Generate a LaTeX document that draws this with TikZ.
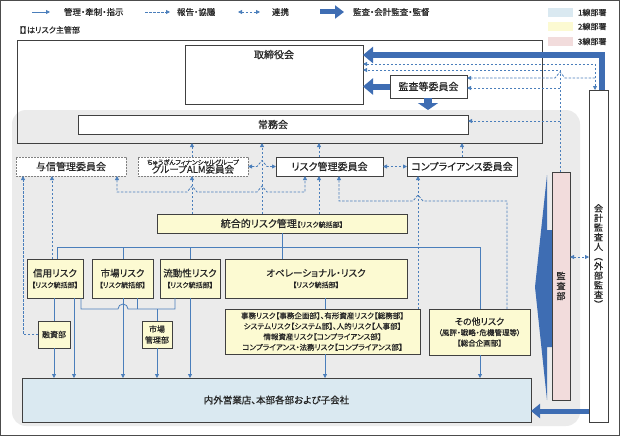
\documentclass[tikz,border=0pt]{standalone}
\usepackage{fontspec}
\setmainfont{Noto Sans CJK JP}[RawFeature={+palt}, FakeBold=0.6]
\usetikzlibrary{arrows.meta}
\definecolor{lblue}{HTML}{4A7EBB}
\definecolor{kblue}{HTML}{3E6DB3}
\definecolor{yfill}{HTML}{FCFAD2}
\definecolor{bfill}{HTML}{DAE9F1}
\definecolor{pfill}{HTML}{F2DCDC}
\definecolor{gbg}{HTML}{EBEBEB}
\definecolor{bord}{HTML}{404040}
\definecolor{txt}{HTML}{262626}
\newcommand\bx[7]{\node[#6, minimum width={(#4-#2)*1pt}, minimum height={(#5-#3)*1pt}] (#1) at ({(#2+#4)/2},{(#3+#5)/2}) {#7};}
\newcommand\fa[1]{\fontsize{#1}{#1}\selectfont}
\begin{document}
\begin{tikzpicture}[x=1pt,y=-1pt,
  every node/.style={text=txt, inner sep=1pt, outer sep=0pt},
  box/.style={draw=bord, line width=0.8pt, fill=white},
  dbox/.style={draw=gray, line width=0.7pt, dash pattern=on 2pt off 1pt, fill=white},
  ybox/.style={draw=bord, line width=0.8pt, fill=yfill, align=center},
  f10/.style={font=\fontsize{10}{12}\selectfont},
  tip/.tip={Triangle[length=4pt,width=4pt]},
  sl/.style={lblue, line width=0.8pt},
  sla/.style={sl, -tip},
  da/.style={lblue, line width=0.8pt, dash pattern=on 2.5pt off 1.5pt, -tip},
  dd/.style={lblue, line width=0.8pt, dash pattern=on 2.5pt off 1.5pt, tip-tip},
  tk/.style={kblue, line width=6pt, line join=miter, -{Triangle[length=10pt,width=16pt]}},
]
\useasboundingbox (0,0) rectangle (620,436);
\draw[gray!60!black, line width=1pt] (0.5,0.5) rectangle (619.5,435.5);

% legend
\coordinate (l1a) at (32,12); \coordinate (l1b) at (50,12);
\draw[sla] (l1a) -- (l1b);
\node[anchor=west, font=\fa{8.5}] (t1) at (63,12) {管理・牽制・指示};
\coordinate (l2a) at (145,12); \coordinate (l2b) at (170,12);
\draw[da] (l2a) -- (l2b);
\node[anchor=west, font=\fa{8.5}] (t2) at (176,12) {報告・協議};
\coordinate (l3a) at (238,12); \coordinate (l3b) at (260,12);
\draw[dd] (l3a) -- (l3b);
\node[anchor=west, font=\fa{8.5}] (t3) at (271,12) {連携};
\coordinate (l4a) at (320,12); \coordinate (l4b) at (344,12);
\draw[kblue, line width=5pt, -{Triangle[length=9pt,width=13pt]}] (l4a) -- (l4b);
\node[anchor=west, font=\fa{8.5}] (t4) at (352,12) {監査・会計監査・監督};
\bx{lg1}{548}{8}{573}{17}{fill=bfill}{}
\bx{lg2}{548}{22}{573}{31}{fill=yfill}{}
\bx{lg3}{548}{37}{573}{46}{fill=pfill}{}
\node[anchor=west, font=\fa{8}] (lt1) at (577,12.5) {1線部署};
\node[anchor=west, font=\fa{8}] (lt2) at (577,26.5) {2線部署};
\node[anchor=west, font=\fa{8}] (lt3) at (577,41.5) {3線部署};
\node[anchor=west, font=\fa{8}] (note) at (18,30) {【】はリスク主管部};

% gray region and board frame
\fill[gbg, rounded corners=14pt] (12,110) rectangle (580,426);
\bx{bd}{17}{40}{542}{143}{draw=bord, line width=0.8pt}{}

% top nodes
\bx{tori}{185}{45}{363}{104}{box, label={[anchor=north, font=\fa{10}, inner sep=5pt]north:取締役会}}{}
\bx{jomu}{78}{115}{468}{134}{box,f10}{常務会}
\bx{kansa}{390}{75}{467}{98}{box,f10}{監査等委員会}

% committees
\bx{yoshin}{16}{157}{126}{176}{dbox,f10}{与信管理委員会}
\bx{alm}{138}{157}{248}{176}{dbox,align=center,font=\fa{8}}{{\fontsize{6.5}{7}\selectfont ちゅうぎんフィナンシャルグループ}\\[-1.5pt]{\fontsize{9.5}{9}\selectfont グループALM委員会}}
\bx{riskc}{276}{157}{383}{176}{box,f10}{リスク管理委員会}
\bx{comp}{407}{157}{517}{176}{box,f10}{コンプライアンス委員会}

\bx{togo}{157}{214}{407}{233}{ybox}{{\fontsize{10}{12}\selectfont 統合的リスク管理}{\fontsize{7}{8}\selectfont 【リスク統括部】}}

% risk boxes
\bx{shinyo}{27}{259}{83}{298}{ybox,font=\fa{9}}{{\fa{9.5}信用リスク}\\[2pt]{\fa{7}【リスク統括部】}}
\bx{shijo}{92}{259}{153}{298}{ybox,font=\fa{9}}{{\fa{9.5}市場リスク}\\[2pt]{\fa{7}【リスク統括部】}}
\bx{ryudo}{160}{259}{220}{298}{ybox,font=\fa{9}}{{\fa{9.5}流動性リスク}\\[2pt]{\fa{7}【リスク統括部】}}
\bx{ope}{225}{259}{407}{298}{ybox,font=\fa{9}}{{\fa{9.5}オペレーショナル・リスク}\\[2pt]{\fa{7}【リスク統括部】}}
\bx{jimu}{225}{309}{420}{354}{ybox,font=\fontsize{7.5}{10.5}\selectfont}{事務リスク【事務企画部】、有形資産リスク【総務部】\\システムリスク【システム部】、人的リスク【人事部】\\情報資産リスク【コンプライアンス部】\\コンプライアンス・法務リスク【コンプライアンス部】}
\bx{sonota}{429}{309}{530}{355}{ybox,font=\fontsize{7.5}{10.5}\selectfont}{{\fa{9}その他リスク}\\（風評・戦略・危機管理等）\\【総合企画部】}
\bx{yushi}{38}{321}{70}{348}{ybox,font=\fa{8}}{融資部}
\bx{shijokanri}{142}{321}{172}{348}{ybox,font=\fontsize{8}{11}\selectfont}{市場\\管理部}

\bx{naigai}{22}{378}{531}{422}{box,fill=bfill,font=\fa{9.5}}{内外営業店、本部各部および子会社}

% audit
\fill[kblue] (556,230) -- (547,230) -- (547,175) -- (535,287) -- (547,400) -- (547,347) -- (556,347) -- cycle;
\bx{kansabu}{552}{172}{570}{400}{box,fill=pfill,align=center,font=\fontsize{9}{10}\selectfont}{監\\査\\部}
\bx{kaikei}{589}{90}{608}{422}{box,align=center,font=\fontsize{9}{9.6}\selectfont}{会\\計\\監\\査\\人\\︵\\外\\部\\監\\査\\︶}

% thick arrows
\draw[tk] (602,0 |- kaikei.north) -- (602,55) -- (tori.east |- 0,55);
\draw[tk] (kansa.west) -- (tori.east |- kansa.west);
\draw[kblue, line width=8pt, -{Triangle[length=7pt,width=20pt]}, shorten >=5pt] (428,0 |- kansa.south) -- (428,0 |- jomu.north);
\draw[kblue, line width=5pt, -{Triangle[length=9pt,width=14pt]}] (kaikei.west |- 0,411) -- (naigai.east |- 0,411);

% dashed top-right
\draw[dd] (tori.east |- 0,64) -- (595,64) -- (595,0 |- kaikei.north);
\draw[da] (560,0 |- kansabu.north) -- (560,70) -- (tori.east |- 0,70);
\draw[da] (560,88) -- (kansa.east |- 0,88);
\draw[da] (560,121) -- (jomu.east |- 0,121);
\draw[da] (595,78) -- (565,78) -- (560,72) -- (555,78) -- (kansa.east |- 0,78);
\draw[dd] (kansabu.east |- 0,257) -- (kaikei.west |- 0,257);

% committees up
\draw[da] (192,0 |- alm.north) -- (192,0 |- bd.south);
\draw[da] (192,0 |- togo.north) -- (192,0 |- alm.south);
\draw[da] (262,0 |- togo.north) -- (262,0 |- bd.south);
\draw[da] (319,0 |- riskc.north) -- (319,0 |- bd.south);
\draw[da] (319,0 |- togo.north) -- (319,0 |- riskc.south);
\draw[da] (462,0 |- comp.north) -- (462,0 |- bd.south);
\draw[dd] (alm.east) -- (257,166.5) -- (262,160.5) -- (267,166.5) -- (riskc.west);
\draw[dd] (riskc.east) -- (comp.west);
\draw[dd] (117,0 |- yoshin.south) -- (117,192) -- (187,192) -- (192,186) -- (197,192) -- (257,192) -- (262,186) -- (267,192) -- (305,192) -- (305,0 |- riskc.south);
\draw[da] (yushi.west) -- (23,0 |- yushi.west) -- (23,0 |- yoshin.south);
\draw[da] (52,0 |- shinyo.north) -- (52,0 |- yoshin.south);
\draw[da] (418,0 |- jimu.north) -- (418,0 |- comp.south);
\draw[da] (507,0 |- sonota.north) -- (507,201) -- (423,201) -- (418,195) -- (413,201) -- (339,201) -- (339,0 |- riskc.south);

% solid lines
\draw[sl] (282,0 |- togo.south) -- (282,0 |- ope.north);
\draw[sl] (57,0 |- shinyo.north) -- (57,247) -- (480,247) -- (480,0 |- sonota.north);
\draw[sl] (123,247) -- (123,0 |- shijo.north);
\draw[sl] (190,247) -- (190,0 |- ryudo.north);
\draw[sl] (shinyo.south -| yushi.north) -- (yushi.north);
\draw[sla] (yushi.south) -- (yushi.south |- naigai.north);
\draw[sla] (74,0 |- shinyo.south) -- (74,0 |- naigai.north);
\draw[sla] (123,0 |- shijo.south) -- (123,0 |- naigai.north);
\draw[sl] (81,0 |- shinyo.south) -- (81,309) -- (118,309) arc (180:360:5) -- (175,309) -- (175,0 |- ryudo.south);
\draw[sl] (137,0 |- shijo.south) -- (137,309);
\draw[sl] (157,309) -- (157,0 |- shijokanri.north);
\draw[sla] (shijokanri.south) -- (shijokanri.south |- naigai.north);
\draw[sla] (190,0 |- ryudo.south) -- (190,0 |- naigai.north);
\draw[sl] (325,0 |- ope.south) -- (325,0 |- jimu.north);
\draw[sla] (325,0 |- jimu.south) -- (325,0 |- naigai.north);
\draw[sla] (480,0 |- sonota.south) -- (480,0 |- naigai.north);
\end{tikzpicture}
\end{document}
